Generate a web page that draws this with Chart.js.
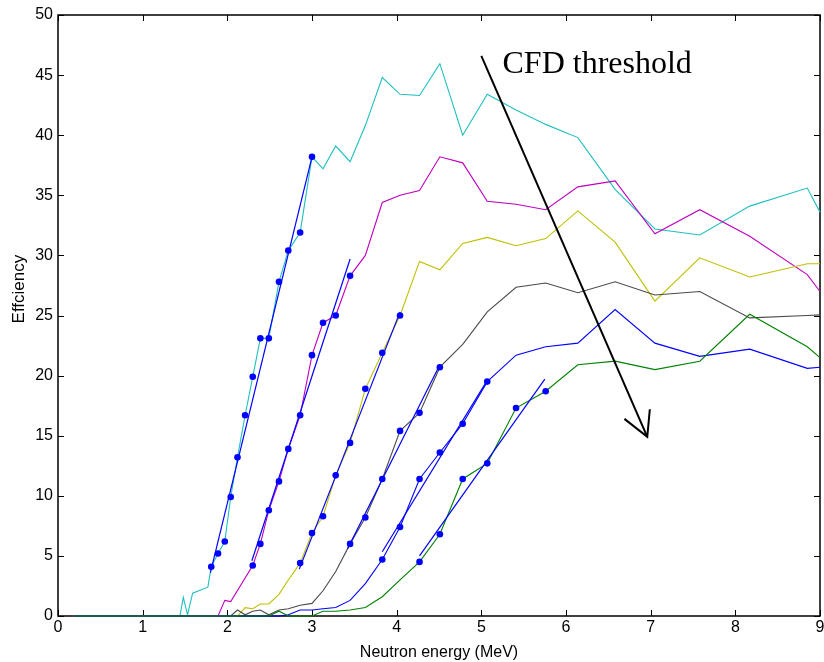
<!DOCTYPE html>
<html>
<head>
<meta charset="utf-8">
<title>Effciency vs neutron energy</title>
<script src="https://cdn.jsdelivr.net/npm/chart.js@4.4.1/dist/chart.umd.min.js"></script>
<style>
  html, body { margin: 0; padding: 0; background: #fff; }
  #wrap { width: 824px; height: 662px; position: relative; }
</style>
</head>
<body>
<div id="wrap"><canvas id="effChart"></canvas></div>
<script>
// neutron energy grid (MeV), shared by every curve
const energy = [0.2, 1.44, 1.48, 1.53, 1.59, 1.77, 1.81, 1.89, 1.97, 2.04,
  2.12, 2.21, 2.30, 2.39, 2.49, 2.61, 2.72, 2.86, 3.00, 3.13,
  3.28, 3.45, 3.63, 3.83, 4.04, 4.27, 4.51, 4.78, 5.07, 5.41,
  5.76, 6.14, 6.58, 7.05, 7.58, 8.17, 8.85, 9.00];

// efficiency (%) for each CFD threshold, lowest threshold first
const effCyan = [0, 0, 1.55, 0.1, 1.9, 2.4, 4.1, 5.2, 6.2, 9.9,
  13.2, 16.7, 19.9, 23.1, 23.1, 27.8, 30.4, 31.9, 38.2, 37.2,
  39.1, 37.8, 40.8, 44.8, 43.4, 43.3, 45.95, 40.0, 43.4, 42.1,
  40.9, 39.8, 35.5, 32.2, 31.7, 34.1, 35.6, 33.6];
const effMagenta = [0, 0, 0, 0, 0, 0, 0, 0, 1.3, 1.2,
  null, null, 4.2, 6.0, 8.8, 11.2, 13.9, 16.7, 21.7, 24.4,
  25.0, 28.3, 30.0, 34.4, 35.0, 35.4, 38.2, 37.7, 34.5, 34.25,
  33.8, 35.7, 36.2, 31.8, 33.8, 31.6, 28.4, 27.0];
const effYellow = [0, 0, 0, 0, 0, 0, 0, 0, 0, 0,
  0, 0.7, 0.6, 1.0, 1.0, 1.8, 3.0, 4.4, 6.9, 8.3,
  11.7, 14.4, 18.9, 21.9, 25.0, 29.5, 28.8, 31.0, 31.5, 30.8,
  31.4, 33.7, 31.1, 26.2, 29.8, 28.2, 29.3, 29.3];
const effGray = [0, 0, 0, 0, 0, 0, 0, 0, 0, 0,
  0.5, 0.1, 0.4, 0.5, 0.1, 0.5, 0.6, 0.9, 1.05, 2.1,
  3.7, 6.0, 8.2, 11.4, 15.4, 16.9, 20.7, 22.6, 25.3, 27.35,
  27.7, 26.9, 27.8, 26.7, 27.0, 24.8, 25.0, 25.05];
const effBlue = [0, 0, 0, 0, 0, 0, 0, 0, 0, 0,
  0, 0, 0, 0, 0, 0, 0.1, 0.5, 0.5, 0.6,
  0.7, 1.3, 2.7, 4.7, 7.4, 11.4, 13.6, 16.0, 19.5, 21.7,
  22.4, 22.7, 25.5, 22.7, 21.6, 22.2, 20.6, 20.7];
const effGreen = [0, 0, 0, 0, 0, 0, 0, 0, 0, 0,
  0, 0, 0, 0, 0, 0.4, 0, 0, 0, 0.4,
  0.4, 0.5, 0.7, 1.6, 3.0, 4.5, 6.8, 11.4, 12.7, 17.3,
  18.7, 20.9, 21.2, 20.5, 21.2, 25.1, 22.4, 21.5];

// index range of the points used for the linear fit of each curve
const fitFrom = [6, 12, 17, 21, 23, 25];
const fitTo = [18, 21, 24, 26, 28, 30];

// straight fit lines: start and end (energy, efficiency)
const fitStartE = [1.80, 2.29, 2.85, 3.42, 3.83, 4.27];
const fitStartV = [3.6, 4.6, 3.9, 5.6, 5.35, 5.0];
const fitEndE = [3.00, 3.45, 4.04, 4.51, 5.07, 5.75];
const fitEndV = [38.2, 29.7, 25.3, 20.9, 19.6, 19.7];

// arrow annotation and its label
const arrowE = [5.0, 6.96];
const arrowV = [46.6, 14.9];
const headE = [6.69, 6.96, 6.99];
const headV = [16.4, 14.9, 17.2];
const labelText = 'CFD threshold';
const labelPos = [5.25, 45.2];

const xTicks = [0, 1, 2, 3, 4, 5, 6, 7, 8, 9];
const yTicks = [0, 5, 10, 15, 20, 25, 30, 35, 40, 45, 50];

const curves = [effCyan, effMagenta, effYellow, effGray, effBlue, effGreen];
const curveColors = ['#1fbfbf', '#bf00bf', '#bfbf00', '#4a4a4a', '#0000ff', '#008000'];

const toPoints = (xs, ys) => xs.map((e, i) => ({ x: e, y: ys[i] }));

const datasets = [];

// fit points (blue dots), drawn on top
curves.forEach((vals, k) => {
  datasets.push({
    data: energy.map((e, i) => ({ x: e, y: (i >= fitFrom[k] && i <= fitTo[k]) ? vals[i] : null })),
    showLine: false,
    pointRadius: 3.3,
    pointBackgroundColor: '#0000ff',
    pointBorderWidth: 0
  });
});

// fit lines
fitStartE.forEach((e, k) => {
  datasets.push({
    data: toPoints([e, fitEndE[k]], [fitStartV[k], fitEndV[k]]),
    borderColor: '#0000ff',
    borderWidth: 1.2,
    pointRadius: 0
  });
});

// arrow
datasets.push({
  data: toPoints(arrowE, arrowV),
  borderColor: '#000',
  borderWidth: 2,
  pointRadius: 0
});
datasets.push({
  data: toPoints(headE, headV),
  borderColor: '#000',
  borderWidth: 2,
  pointRadius: 0
});

// efficiency curves, last threshold pushed first so it ends up on top
// (not clipped, so the zero baseline sits on the axis)
for (let k = curves.length - 1; k >= 0; k--) {
  datasets.push({
    data: toPoints(energy, curves[k]),
    borderColor: curveColors[k],
    borderWidth: 1.1,
    pointRadius: 0,
    spanGaps: true,
    clip: false
  });
}

// box around the plot and inward ticks on all four sides
const frameTicks = {
  id: 'frameTicks',
  beforeDatasetsDraw(chart) {
    const { ctx, chartArea: a, scales: { x, y } } = chart;
    ctx.save();
    ctx.strokeStyle = '#000';
    ctx.lineWidth = 1.5;
    ctx.strokeRect(a.left, a.top, a.right - a.left, a.bottom - a.top);
    ctx.lineWidth = 1;
    ctx.beginPath();
    xTicks.forEach(v => {
      const px = Math.round(x.getPixelForValue(v)) + 0.5;
      ctx.moveTo(px, a.bottom); ctx.lineTo(px, a.bottom - 6);
      ctx.moveTo(px, a.top); ctx.lineTo(px, a.top + 6);
    });
    yTicks.forEach(v => {
      const py = Math.round(y.getPixelForValue(v)) + 0.5;
      ctx.moveTo(a.left, py); ctx.lineTo(a.left + 6, py);
      ctx.moveTo(a.right, py); ctx.lineTo(a.right - 6, py);
    });
    ctx.stroke();
    ctx.restore();
  },
  afterDraw(chart) {
    const { ctx, scales: { x, y } } = chart;
    ctx.save();
    ctx.fillStyle = '#000';
    // annotation label
    ctx.font = '32px "Liberation Serif", "Times New Roman", serif';
    ctx.textBaseline = 'alphabetic';
    ctx.fillText(labelText, x.getPixelForValue(labelPos[0]), y.getPixelForValue(labelPos[1]));
    // y axis title, sits a little above the middle as in the original
    ctx.font = '17px "Liberation Sans", Arial, sans-serif';
    ctx.translate(19, y.getPixelForValue(27.2));
    ctx.rotate(-Math.PI / 2);
    ctx.textAlign = 'center';
    ctx.textBaseline = 'middle';
    ctx.fillText('Effciency', 0, 0);
    ctx.restore();
  }
};

const tickFont = { family: '"Liberation Sans", Arial, sans-serif', size: 16 };
const titleFont = { family: '"Liberation Sans", Arial, sans-serif', size: 16 };

new Chart(document.getElementById('effChart'), {
  type: 'line',
  data: { datasets },
  options: {
    responsive: true,
    maintainAspectRatio: false,
    animation: false,
    layout: { padding: { top: 15, right: 3, left: 0, bottom: 0 } },
    plugins: { legend: { display: false }, tooltip: { enabled: false } },
    scales: {
      x: {
        type: 'linear',
        min: 0, max: 9,
        afterBuildTicks: s => { s.ticks = xTicks.map(v => ({ value: v })); },
        afterFit: s => { s.height = 46; s.paddingLeft = 0; s.paddingRight = 0; },
        grid: { display: false, drawTicks: false },
        border: { display: false },
        ticks: { color: '#000', font: tickFont, padding: 2, maxRotation: 0 },
        title: { display: true, text: 'Neutron energy (MeV)', color: '#000', font: titleFont, padding: { top: 0, bottom: 0 } }
      },
      y: {
        min: 0, max: 50,
        afterBuildTicks: s => { s.ticks = yTicks.map(v => ({ value: v })); },
        afterFit: s => { s.width = 58; s.paddingTop = 0; s.paddingBottom = 0; },
        grid: { display: false, drawTicks: false },
        border: { display: false },
        ticks: { color: '#000', font: tickFont, padding: 5 },
        title: { display: false }
      }
    }
  },
  plugins: [frameTicks]
});
</script>
</body>
</html>
